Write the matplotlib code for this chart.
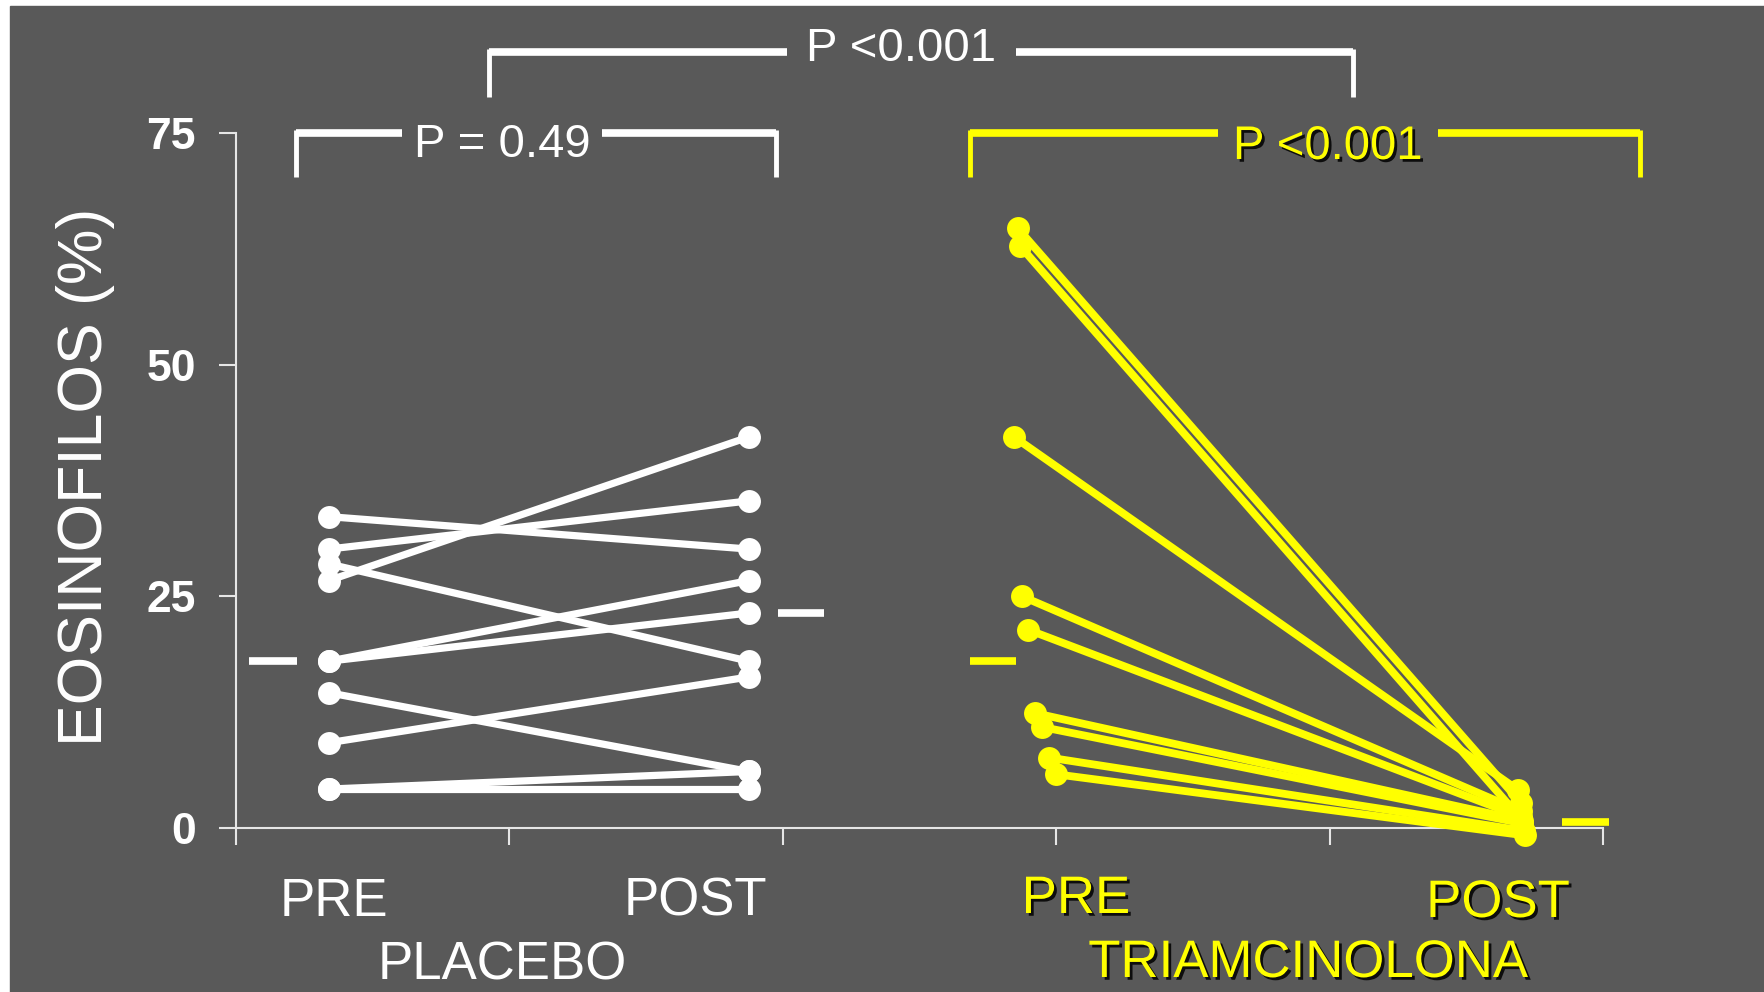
import matplotlib
matplotlib.use("Agg")
import matplotlib.pyplot as plt
from matplotlib import patheffects as pe
from matplotlib.patches import Rectangle

plt.rcParams['font.family'] = ['Liberation Sans', 'DejaVu Sans']

# eosinophil % per subject, PRE -> POST
placebo_pre = [33.6, 30.1, 26.7, 28.5, 18.0, 18.0, 14.6, 9.2, 4.2, 4.2]
placebo_post = [30.1, 35.3, 42.2, 18.0, 26.7, 23.2, 6.1, 16.3, 4.2, 6.1]
triam_pre = [64.7, 62.8, 42.2, 25.0, 21.4, 12.4, 10.9, 7.6, 5.8]
triam_post = [2.7, 1.0, 4.1, 1.8, 1.2, 0.8, 0.5, -0.3, -0.8]

# group summary bars (PRE, POST)
placebo_mean = [18.0, 23.2]
triam_mean = [18.0, 0.65]

group_names = ['PLACEBO', 'TRIAMCINOLONA']
time_labels = ['PRE', 'POST']
p_values = ['P = 0.49', 'P <0.001', 'P <0.001']
y_ticks = [0, 25, 50, 75]

W, H = 1764, 992
BG = '#595959'
YEL = '#ffff00'
AX_COL = '#e6e6e6'

fig = plt.figure(figsize=(W / 100, H / 100), dpi=100, facecolor='white')

# overlay in pixel coordinates for background, brackets and texts
ov = fig.add_axes([0, 0, 1, 1])
ov.set_xlim(0, W)
ov.set_ylim(H, 0)
ov.axis('off')
ov.add_patch(Rectangle((10, 6), W - 10, H - 6, color=BG, zorder=0))

# main data axes
ax = fig.add_axes([236 / W, (H - 828) / H, (1603 - 236) / W, (828 - 133) / H])
ax.set_facecolor('none')
ax.set_xlim(0, 5)
ax.set_ylim(0, 75)

pl_x = [0.339, 1.876]
for a, b in zip(placebo_pre, placebo_post):
    ax.plot(pl_x, [a, b], '-o', color='white', lw=5.2, ms=16.5, mew=0,
            solid_capstyle='round', clip_on=False, zorder=3)

tr_pre_x = [2.860, 2.868, 2.846, 2.875, 2.897, 2.922, 2.948, 2.974, 2.999]
tr_post_x = [4.70, 4.70, 4.689, 4.70, 4.70, 4.705, 4.705, 4.71, 4.715]
for x0, x1, a, b in zip(tr_pre_x, tr_post_x, triam_pre, triam_post):
    ax.plot([x0, x1], [a, b], '-o', color=YEL, lw=5.6, ms=16.5, mew=0,
            solid_capstyle='round', clip_on=False, zorder=3)

# summary bars
ax.hlines(placebo_mean, [0.048, 1.981], [0.223, 2.152], color='white',
          lw=5.5, clip_on=False, zorder=3)
ax.hlines(triam_mean, [2.685, 4.850], [2.852, 5.022], color=YEL,
          lw=5.5, clip_on=False, zorder=3)

for s in ['top', 'right']:
    ax.spines[s].set_visible(False)
for s in ['left', 'bottom']:
    ax.spines[s].set_color(AX_COL)
    ax.spines[s].set_linewidth(1.5)
ax.set_xticks(range(6))
ax.set_xticklabels([])
ax.set_yticks(y_ticks)
ax.set_yticklabels([str(v) for v in y_ticks], fontsize=32, fontweight='bold',
                   color='white')
ax.tick_params(axis='both', direction='out', length=12, width=1.5,
               colors=AX_COL, pad=17)
for lab in ax.get_yticklabels():
    lab.set_color('white')

shadow = [pe.withSimplePatchShadow(offset=(2, -2), shadow_rgbFace='black',
                                   alpha=0.85)]


def bracket(x0, x1, y, y_bot, g0, g1, text, ty, color, effects=None):
    ov.plot([x0, g0], [y, y], color=color, lw=5.5, solid_capstyle='butt')
    ov.plot([g1, x1], [y, y], color=color, lw=5.5, solid_capstyle='butt')
    ov.plot([x0, x0], [y - 3, y_bot], color=color, lw=3.5, solid_capstyle='butt')
    ov.plot([x1, x1], [y - 3, y_bot], color=color, lw=3.5, solid_capstyle='butt')
    ov.text((g0 + g1) / 2, ty, text, color=color, fontsize=34,
            ha='center', va='center', path_effects=effects)


bracket(489, 1353, 52, 97, 787, 1016, p_values[1], 49, 'white')
bracket(296, 776, 133, 177, 402, 602, p_values[0], 145, 'white')
bracket(970, 1640, 133, 177, 1218, 1438, p_values[2], 147, YEL, shadow)

# category labels
fs = 38
ov.text(334, 902, time_labels[0], color='white', fontsize=fs, ha='center', va='center')
ov.text(695, 902, time_labels[1], color='white', fontsize=fs, ha='center', va='center')
ov.text(502, 966, group_names[0], color='white', fontsize=fs, ha='center', va='center')
ov.text(1076, 899, time_labels[0], color=YEL, fontsize=fs, ha='center', va='center',
        path_effects=shadow)
ov.text(1498, 903, time_labels[1], color=YEL, fontsize=fs, ha='center', va='center',
        path_effects=shadow)
ov.text(1308, 963, group_names[1], color=YEL, fontsize=fs, ha='center', va='center',
        path_effects=shadow)

ov.text(86, 477, 'EOSINOFILOS (%)', color='white', fontsize=45, rotation=90,
        ha='center', va='center')

fig.savefig('out.png', dpi=100, facecolor='white')
